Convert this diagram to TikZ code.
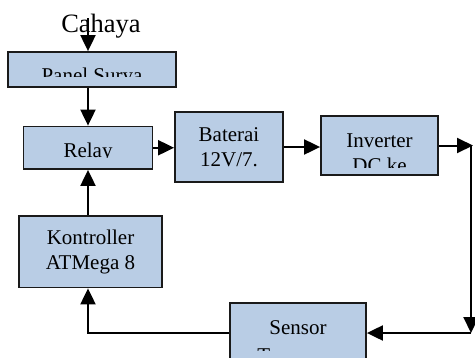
\documentclass[tikz,border=0pt]{standalone}
\usepackage{fontspec}
\setmainfont{Liberation Serif}
\usepackage{tikz}
\usetikzlibrary{arrows.meta,positioning}
\definecolor{boxblue}{HTML}{B9CDE5}
\definecolor{darkline}{HTML}{1A1A1A}

\begin{document}
\begin{tikzpicture}[
  x=1pt, y=-1pt,
  block/.style={draw=darkline, line width=1.8pt, fill=boxblue, inner sep=0pt},
  label/.style={font=\fontsize{21}{25.5}\selectfont, align=center, inner sep=0pt},
  arrow/.style={-{Triangle[length=16pt,width=15pt]}, line width=2pt, draw=black}
]
  \useasboundingbox (0,0) rectangle (475,357);

  % boxes
  \node[block, minimum width=168.5pt, minimum height=35pt] (panel) at (92,69.5) {};
  \node[block, minimum width=129pt, minimum height=42.5pt] (relay) at (88,147.75) {};
  \node[block, label, minimum width=108pt, minimum height=70pt] (baterai) at (229,147)
    {Baterai\\12V/7.};
  \node[block, minimum width=117pt, minimum height=59pt] (inverter) at (379.5,145.5) {};
  \node[block, label, minimum width=143pt, minimum height=71.5pt] (kontroller) at (90.5,251.75)
    {Kontroller\\ATMega 8};
  \node[block, minimum width=136pt, minimum height=56pt] (sensor) at (298,331) {};

  % clipped texts
  \begin{scope}
    \clip (panel.north west) rectangle (panel.east |- 0,76);
    \node[label, anchor=base] (panelText) at (92,82) {Panel Surya};
  \end{scope}
  \begin{scope}
    \clip (relay.north west) rectangle (relay.east |- 0,157.5);
    \node[label, anchor=base] (relayText) at (88,157) {Relay};
  \end{scope}
  \begin{scope}
    \clip (inverter.north west) rectangle (inverter.east |- 0,167);
    \node[label, anchor=base] (inverterText) at (379.5,147) {Inverter};
    \node[label, anchor=base] (dcText) at (379.5,172) {DC ke};
  \end{scope}
  \begin{scope}
    \clip (sensor.north west) rectangle (sensor.east |- 0,350);
    \node[label, anchor=base] (sensorText) at (298,334) {Sensor};
    \node[label, anchor=base] (teganganText) at (298,362) {Tegangan};
  \end{scope}

  \node[font=\fontsize{26.5}{30}\selectfont, inner sep=0pt, anchor=base] (cahaya) at (101,32) {Cahaya};
  \coordinate (sun) at (88,18);
  \coordinate (out) at (473,147);
  \coordinate (back) at (471,333);

  \draw[arrow] (sun) -- (sun |- panel.north);
  \draw[arrow] (panel.south -| relay.north) -- (relay.north);
  \draw[arrow] (relay.east) -- (relay.east -| baterai.west);
  \draw[arrow] (baterai.east) -- (baterai.east -| inverter.west);
  \draw[arrow] (inverter.east) -- (inverter.east -| out);
  \draw[arrow] (inverter.east -| back) -- (back);
  \draw[arrow] (back) -- (back -| sensor.east);
  \draw[arrow] (back -| sensor.west) -| (kontroller.south -| relay.south);
  \draw[arrow] (kontroller.north -| relay.south) -- (relay.south);
\end{tikzpicture}
\end{document}
